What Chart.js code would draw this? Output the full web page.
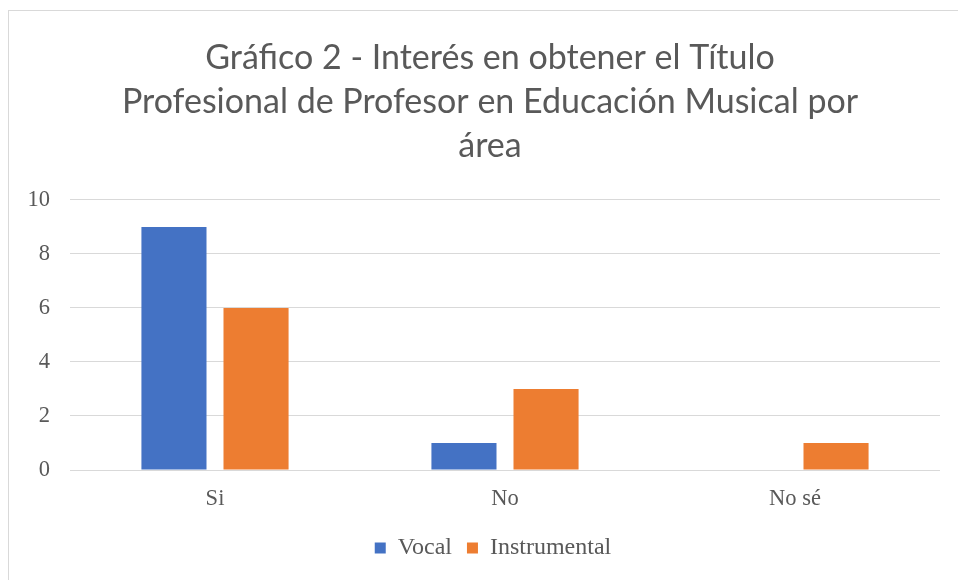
<!DOCTYPE html>
<html>
<head>
<meta charset="utf-8">
<script src="https://cdn.jsdelivr.net/npm/chart.js@4.4.1/dist/chart.umd.min.js"></script>
<style>
  html, body { margin: 0; padding: 0; background: #fff; overflow: hidden; }
  #frame { position: absolute; left: 8px; top: 10px; width: 1000px; height: 1000px; border: 1px solid #d9d9d9; box-sizing: border-box; }
  #wrap { position: absolute; left: 0; top: 0; width: 958px; height: 580px; }
</style>
</head>
<body>
<div id="frame"></div>
<div id="wrap"><canvas id="c" width="958" height="580"></canvas></div>
<script>
const categories = ['Si', 'No', 'No sé'];
const vocal = [9, 1, 0];
const instrumental = [6, 3, 1];
const seriesNames = ['Vocal', 'Instrumental'];
const titleLines = [
  'Gráfico 2 - Interés en obtener el Título',
  'Profesional de Profesor en Educación Musical por',
  'área'
];
const yTicks = [0, 2, 4, 6, 8, 10];

const serif = '"Liberation Serif", "Times New Roman", serif';
const gray = '#595959';

// shift title and legend horizontally to match the reference frame centre
const shiftPlugin = {
  id: 'shiftBoxes',
  afterLayout(chart) {
    if (chart.titleBlock) { chart.titleBlock.left += 11; chart.titleBlock.right += 11; }
    if (chart.legend) { chart.legend.left += 14; chart.legend.right += 14; }
  }
};

new Chart(document.getElementById('c'), {
  type: 'bar',
  data: {
    labels: categories,
    datasets: [
      { label: seriesNames[0], data: vocal, backgroundColor: '#4472c4', categoryPercentage: 0.566, barPercentage: 0.793 },
      { label: seriesNames[1], data: instrumental, backgroundColor: '#ed7d31', categoryPercentage: 0.566, barPercentage: 0.793 }
    ]
  },
  plugins: [shiftPlugin],
  options: {
    responsive: false,
    animation: false,
    layout: { padding: { left: 18, right: 18, top: 36, bottom: 10 } },
    plugins: {
      title: {
        display: true,
        text: titleLines,
        color: gray,
        font: { family: 'Lato, "Open Sans", sans-serif', size: 34, weight: 'normal', lineHeight: 1.294 },
        padding: { top: 0, bottom: 32 }
      },
      legend: {
        position: 'bottom',
        labels: {
          color: gray,
          font: { family: serif, size: 24 },
          boxWidth: 11,
          boxHeight: 11,
          padding: 15
        }
      },
      tooltip: { enabled: false }
    },
    scales: {
      x: {
        grid: { display: false },
        border: { display: false },
        ticks: { color: gray, font: { family: serif, size: 22.5 }, padding: 8 }
      },
      y: {
        min: 0, max: 10,
        afterBuildTicks: (s) => { s.ticks = yTicks.map(v => ({ value: v })); },
        afterFit: (s) => { s.width = 52; },
        grid: { color: '#d9d9d9', lineWidth: 1, drawTicks: false },
        border: { display: false },
        ticks: { color: gray, font: { family: serif, size: 22.5 }, padding: 20 }
      }
    }
  }
});
</script>
</body>
</html>
